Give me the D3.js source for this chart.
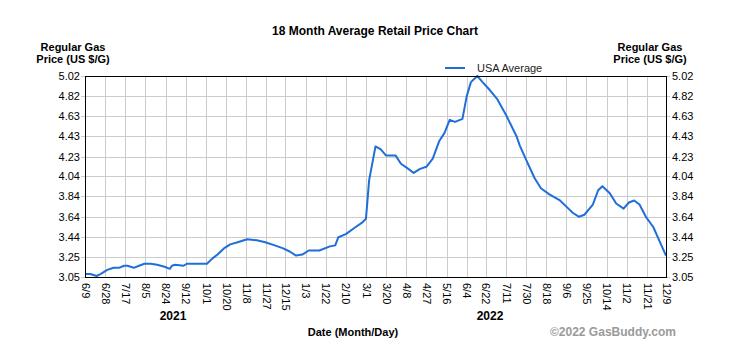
<!DOCTYPE html>
<html>
<head>
<meta charset="utf-8">
<script src="https://cdn.jsdelivr.net/npm/d3@7"></script>
<style>
  body { margin: 0; background: #fff; }
  svg text { font-family: "Liberation Sans", Arial, sans-serif; }
</style>
</head>
<body>
<div class="chart"></div>
<script>
// data
const dates = [
  "2021-06-09", "2021-06-14", "2021-06-20", "2021-06-24", "2021-06-30", "2021-07-06",
  "2021-07-11", "2021-07-16", "2021-07-19", "2021-07-25", "2021-07-30", "2021-08-04",
  "2021-08-10", "2021-08-16", "2021-08-23", "2021-08-28", "2021-08-30", "2021-09-02",
  "2021-09-10", "2021-09-13", "2021-09-23", "2021-10-02", "2021-10-07", "2021-10-12",
  "2021-10-18", "2021-10-24", "2021-10-31", "2021-11-09", "2021-11-18", "2021-11-26",
  "2021-12-05", "2021-12-13", "2021-12-19", "2021-12-25", "2021-12-31", "2022-01-06",
  "2022-01-16", "2022-01-26", "2022-01-31", "2022-02-03", "2022-02-10", "2022-02-18",
  "2022-02-25", "2022-03-01", "2022-03-04", "2022-03-10", "2022-03-15", "2022-03-20",
  "2022-03-29", "2022-04-03", "2022-04-10", "2022-04-15", "2022-04-21", "2022-04-27",
  "2022-05-03", "2022-05-09", "2022-05-14", "2022-05-19", "2022-05-24", "2022-05-31",
  "2022-06-04", "2022-06-08", "2022-06-14", "2022-06-19", "2022-06-26", "2022-07-03",
  "2022-07-11", "2022-07-21", "2022-07-24", "2022-07-30", "2022-08-07", "2022-08-13",
  "2022-08-21", "2022-08-31", "2022-09-08", "2022-09-12", "2022-09-18", "2022-09-23",
  "2022-10-01", "2022-10-06", "2022-10-10", "2022-10-17", "2022-10-23", "2022-10-30",
  "2022-11-04", "2022-11-09", "2022-11-14", "2022-11-20", "2022-11-27", "2022-12-03",
  "2022-12-09"
];
const usaAverage = [
  3.08, 3.08, 3.06, 3.08, 3.12, 3.14,
  3.14, 3.16, 3.16, 3.14, 3.16, 3.18,
  3.18, 3.17, 3.15, 3.13, 3.16, 3.17,
  3.16, 3.18, 3.18, 3.18, 3.23, 3.27,
  3.33, 3.37, 3.39, 3.42, 3.41, 3.39,
  3.36, 3.33, 3.30, 3.26, 3.27, 3.31,
  3.31, 3.35, 3.36, 3.44, 3.47, 3.53,
  3.58, 3.62, 4.00, 4.33, 4.30, 4.24,
  4.24, 4.16, 4.11, 4.07, 4.11, 4.13,
  4.21, 4.38, 4.46, 4.59, 4.57, 4.60,
  4.82, 4.96, 5.02, 4.96, 4.88, 4.79,
  4.64, 4.43, 4.34, 4.20, 4.02, 3.92,
  3.86, 3.80, 3.72, 3.68, 3.64, 3.66,
  3.76, 3.90, 3.94, 3.87, 3.77, 3.72,
  3.78, 3.80, 3.76, 3.64, 3.54, 3.40,
  3.26
];
const yTicks = [3.05, 3.25, 3.44, 3.64, 3.84, 4.04, 4.23, 4.43, 4.63, 4.82, 5.02];
const xTickDates = [
  "2021-06-09", "2021-06-28", "2021-07-17", "2021-08-05", "2021-08-24", "2021-09-12",
  "2021-10-01", "2021-10-20", "2021-11-08", "2021-11-27", "2021-12-15", "2022-01-03",
  "2022-01-22", "2022-02-10", "2022-03-01", "2022-03-20", "2022-04-08", "2022-04-27",
  "2022-05-16", "2022-06-04", "2022-06-22", "2022-07-11", "2022-07-30", "2022-08-18",
  "2022-09-06", "2022-09-25", "2022-10-14", "2022-11-02", "2022-11-21", "2022-12-09"
];
const years = ["2021", "2022"];
const yearAnchors = ["2021-08-31", "2022-06-26"];

const parse = d3.timeParse("%Y-%m-%d");
const series = dates.map((d, i) => ({ date: parse(d), value: usaAverage[i] }));
const tickDates = xTickDates.map(parse);

const svgWidth = 735;
const svgHeight = 361;
const margin = { top: 76, right: 69, bottom: 84, left: 85 };
const width = svgWidth - margin.left - margin.right;
const height = svgHeight - margin.top - margin.bottom;

const svg = d3.select(".chart")
  .append("svg")
  .attr("width", svgWidth)
  .attr("height", svgHeight);

const chartGroup = svg.append("g")
  .attr("transform", `translate(${margin.left}, ${margin.top})`);

// scales
const xScale = d3.scaleTime()
  .domain([tickDates[0], tickDates[tickDates.length - 1]])
  .range([0, width]);

const yScale = d3.scaleLinear()
  .domain([yTicks[0], yTicks[yTicks.length - 1]])
  .range([height, 0]);

// gridlines
chartGroup.selectAll(".hgrid")
  .data(yTicks)
  .enter()
  .append("line")
  .attr("x1", -4)
  .attr("x2", width + 4)
  .attr("y1", d => Math.round(yScale(d)) + 0.5)
  .attr("y2", d => Math.round(yScale(d)) + 0.5)
  .attr("stroke", "#cccccc");

chartGroup.selectAll(".vgrid")
  .data(tickDates)
  .enter()
  .append("line")
  .attr("x1", d => Math.round(xScale(d)) + 0.5)
  .attr("x2", d => Math.round(xScale(d)) + 0.5)
  .attr("y1", 0)
  .attr("y2", height)
  .attr("stroke", "#cccccc");

// axes
const fmt = d3.format(".2f");
const leftAxis = d3.axisLeft(yScale).tickValues(yTicks).tickFormat(fmt).tickSize(0).tickPadding(5);
const rightAxis = d3.axisRight(yScale).tickValues(yTicks).tickFormat(fmt).tickSize(0).tickPadding(6);
const bottomAxis = d3.axisBottom(xScale).tickValues(tickDates)
  .tickFormat(d3.timeFormat("%-m/%-d")).tickSize(0);

[chartGroup.append("g").call(leftAxis),
 chartGroup.append("g").attr("transform", `translate(${width}, 0)`).call(rightAxis)]
  .forEach(g => {
    g.select(".domain").remove();
    g.selectAll("text").attr("font-size", 11).attr("fill", "#000");
  });

const xAxisGroup = chartGroup.append("g")
  .attr("transform", `translate(0, ${height})`)
  .call(bottomAxis);
xAxisGroup.select(".domain").remove();
xAxisGroup.selectAll("text")
  .attr("font-size", 11)
  .attr("fill", "#000")
  .attr("transform", "rotate(90)")
  .attr("text-anchor", "start")
  .attr("x", 6)
  .attr("y", 0)
  .attr("dy", "0.35em");

// line
const line = d3.line()
  .x(d => xScale(d.date))
  .y(d => yScale(d.value));

chartGroup.append("path")
  .attr("d", line(series))
  .attr("fill", "none")
  .attr("stroke", "#1e6fd9")
  .attr("stroke-width", 2)
  .attr("stroke-linejoin", "round");

// plot frame
chartGroup.append("rect")
  .attr("x", 0.5)
  .attr("y", 0.5)
  .attr("width", width)
  .attr("height", height)
  .attr("fill", "none")
  .attr("stroke", "#000");

// year labels
chartGroup.selectAll(".year")
  .data(years)
  .enter()
  .append("text")
  .attr("x", (d, i) => xScale(parse(yearAnchors[i])))
  .attr("y", height + 43)
  .attr("text-anchor", "middle")
  .attr("font-size", 12)
  .attr("font-weight", "bold")
  .text(d => d);

// titles and labels
svg.append("text")
  .attr("x", 375)
  .attr("y", 35)
  .attr("text-anchor", "middle")
  .attr("font-size", 12)
  .attr("font-weight", "bold")
  .text("18 Month Average Retail Price Chart");

[73, 650].forEach(x => {
  const t = svg.append("text")
    .attr("text-anchor", "middle")
    .attr("font-size", 11)
    .attr("font-weight", "bold");
  t.append("tspan").attr("x", x).attr("y", 51).text("Regular Gas");
  t.append("tspan").attr("x", x).attr("y", 63).text("Price (US $/G)");
});

svg.append("text")
  .attr("x", 353)
  .attr("y", 336)
  .attr("text-anchor", "middle")
  .attr("font-size", 11)
  .attr("font-weight", "bold")
  .text("Date (Month/Day)");

svg.append("text")
  .attr("x", 676)
  .attr("y", 336)
  .attr("text-anchor", "end")
  .attr("font-size", 12)
  .attr("font-weight", "bold")
  .attr("fill", "#9a9a9a")
  .text("©2022 GasBuddy.com");

// legend
svg.append("line")
  .attr("x1", 445)
  .attr("x2", 465)
  .attr("y1", 68)
  .attr("y2", 68)
  .attr("stroke", "#1e6fd9")
  .attr("stroke-width", 2);

svg.append("text")
  .attr("x", 477)
  .attr("y", 72)
  .attr("font-size", 11)
  .attr("fill", "#222")
  .text("USA Average");
</script>
</body>
</html>
